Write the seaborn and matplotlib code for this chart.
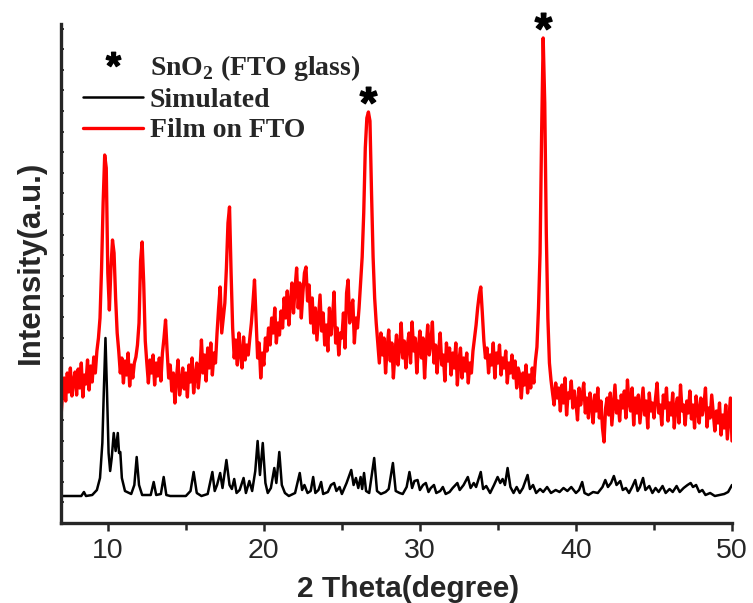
import numpy as np
import pandas as pd
import matplotlib
matplotlib.use("Agg")
import matplotlib.pyplot as plt
import matplotlib.transforms as mtransforms
from matplotlib.ticker import MultipleLocator
from matplotlib.lines import Line2D
from matplotlib.textpath import TextPath
from matplotlib.path import Path
from matplotlib.font_manager import FontProperties
import seaborn as sns

# ---------------- data (intensity in arbitrary units) ----------------
# Film on FTO: sampled every 0.1 degree from 7.0 to 50.0
film_start, film_stop = 7.0, 50.0
film_y = [
    106, 130, 145, 122, 150, 131, 155, 127, 142, 151,   # 7.x
    128, 154, 135, 160, 126, 148, 139, 163, 133, 157,   # 8.x
    141, 166, 150, 172, 185, 205, 255, 320, 368, 355,   # 9.x
    250, 213, 255, 283, 270, 225, 190, 172, 150, 165,   # 10.x
    140, 162, 148, 170, 137, 158, 145, 160, 166, 178,   # 11.x
    200, 262, 281, 240, 182, 160, 140, 163, 150, 168,   # 12.x
    138, 160, 147, 165, 142, 170, 185, 203, 172, 145,   # 13.x
    158, 132, 150, 120, 145, 163, 128, 140, 155, 134,   # 14.x
    150, 126, 158, 141, 165, 130, 147, 160, 135, 152,   # 15.x
    183, 150, 168, 142, 175, 155, 180, 148, 170, 160,   # 16.x
    190, 215, 236, 190, 205, 220, 255, 300, 316, 250,   # 17.x
    195, 165, 183, 158, 190, 170, 155, 186, 163, 178,   # 18.x
    168, 185, 200, 220, 243, 205, 165, 180, 145, 170,   # 19.x
    158, 185, 172, 195, 178, 205, 190, 215, 180, 200,   # 20.x
    188, 212, 195, 225, 205, 232, 198, 220, 240, 210,   # 21.x
    235, 255, 215, 240, 205, 230, 250, 256, 222, 238,   # 22.x
    200, 225, 190, 215, 183, 205, 228, 192, 210, 178,   # 23.x
    198, 172, 215, 188, 205, 231, 180, 195, 168, 190,   # 24.x
    185, 210, 175, 230, 243, 200, 215, 223, 180, 205,   # 25.x
    195, 215, 240, 266, 310, 375, 405, 411, 402, 330,   # 26.x
    266, 225, 200, 180, 160, 190, 168, 185, 150, 175,   # 27.x
    193, 162, 180, 145, 170, 188, 158, 176, 200, 165,   # 28.x
    182, 155, 178, 190, 160, 201, 172, 185, 150, 175,   # 29.x
    192, 165, 185, 145, 175, 198, 168, 180, 201, 160,   # 30.x
    178, 150, 172, 190, 158, 168, 142, 180, 162, 175,   # 31.x
    148, 170, 155, 180, 138, 162, 175, 145, 165, 152,   # 32.x
    170, 140, 160, 150, 172, 185, 198, 215, 228, 236,   # 33.x
    210, 182, 165, 175, 150, 168, 158, 180, 145, 170,   # 34.x
    160, 178, 148, 165, 155, 172, 140, 160, 150, 168,   # 35.x
    145, 162, 135, 155, 148, 125, 150, 138, 158, 130,   # 36.x
    148, 135, 155, 140, 162, 176, 215, 270, 390, 485,   # 37.x
    420, 290, 205, 160, 143, 130, 118, 140, 125, 135,   # 38.x
    112, 138, 120, 145, 108, 130, 125, 142, 115, 132,   # 39.x
    120, 103, 135, 118, 128, 140, 110, 125, 105, 130,   # 40.x
    118, 100, 128, 112, 135, 105, 122, 95, 81, 115,     # 41.x
    125, 108, 130, 98, 118, 138, 110, 122, 102, 128,    # 42.x
    115, 132, 105, 143, 120, 112, 135, 98, 125, 110,    # 43.x
    128, 100, 118, 135, 108, 122, 95, 130, 112, 120,    # 44.x
    105, 125, 140, 110, 118, 98, 128, 115, 135, 102,    # 45.x
    120, 108, 130, 95, 116, 125, 100, 138, 112, 118,    # 46.x
    98, 122, 110, 132, 104, 118, 95, 127, 112, 100,     # 47.x
    125, 108, 118, 135, 96, 115, 105, 128, 110, 92,     # 48.x
    112, 100, 120, 88, 108, 95, 118, 84, 105, 125,      # 49.x
    82,                                                 # 50.0
]

# Simulated pattern: (2theta, intensity)
sim_x = [7.0, 8.3, 8.47, 8.6, 9.0, 9.3, 9.5, 9.65, 9.75, 9.85, 9.95, 10.05, 10.15,
         10.25, 10.38, 10.5, 10.64, 10.72, 10.8, 10.9, 11.1, 11.5, 11.7, 11.85, 12.0,
         12.2, 12.75, 12.94, 13.1, 13.4, 13.58, 13.75, 14.0, 15.0, 15.3, 15.5, 15.7,
         16.0, 16.4, 16.7, 16.85, 17.0, 17.2, 17.35, 17.6, 17.8, 17.95, 18.1, 18.25,
         18.45, 18.7, 18.85, 19.07, 19.25, 19.45, 19.6, 19.75, 19.93, 20.1, 20.25,
         20.45, 20.67, 20.8, 20.99, 21.15, 21.35, 21.6, 22.0, 22.3, 22.45, 22.6, 22.8,
         23.0, 23.16, 23.3, 23.5, 23.67, 23.8, 24.1, 24.3, 24.5, 24.65, 24.85, 25.0,
         25.3, 25.6, 25.75, 25.9, 26.05, 26.2, 26.3, 26.42, 26.55, 26.75, 27.07, 27.25,
         27.5, 27.8, 28.0, 28.27, 28.45, 28.7, 28.9, 29.15, 29.33, 29.5, 29.65, 29.85,
         30.0, 30.2, 30.38, 30.55, 30.7, 30.9, 31.05, 31.3, 31.47, 31.65, 31.9, 32.1,
         32.4, 32.55, 32.8, 33.07, 33.25, 33.45, 33.6, 33.9, 34.05, 34.25, 34.5, 34.75,
         34.98, 35.15, 35.3, 35.45, 35.62, 35.8, 36.0, 36.2, 36.4, 36.6, 36.9, 37.05,
         37.25, 37.45, 37.7, 37.9, 38.15, 38.4, 38.7, 38.95, 39.2, 39.45, 39.7, 40.0,
         40.2, 40.4, 40.55, 40.8, 41.1, 41.4, 41.7, 41.88, 42.05, 42.25, 42.43, 42.6,
         42.84, 43.0, 43.2, 43.4, 43.6, 43.8, 43.95, 44.1, 44.3, 44.45, 44.7, 44.9,
         45.1, 45.3, 45.55, 45.75, 46.0, 46.2, 46.45, 46.65, 46.9, 47.15, 47.35, 47.5,
         47.7, 47.9, 48.1, 48.3, 48.6, 48.9, 49.2, 49.5, 49.75, 50.0]
sim_y = [27, 27, 31, 27, 28, 33, 45, 80, 135, 185, 130, 70, 52,
         65, 90, 72, 90, 70, 71, 45, 32, 29, 38, 66, 38,
         28, 28, 41, 28, 29, 46, 28, 27, 27, 32, 51, 30,
         27, 29, 51, 32, 38, 50, 35, 63, 38, 34, 44, 30,
         33, 45, 30, 42, 32, 52, 82, 48, 80, 40, 30,
         35, 55, 40, 71, 38, 30, 27, 30, 50, 33, 38, 30,
         32, 46, 30, 33, 41, 29, 31, 38, 40, 32, 36, 29,
         40, 53, 38, 45, 35, 46, 34, 50, 32, 30, 65, 32,
         29, 31, 34, 60, 32, 30, 29, 36, 51, 35, 42, 43,
         33, 38, 40, 31, 35, 38, 30, 32, 36, 29, 31, 35,
         40, 33, 38, 46, 35, 40, 36, 51, 34, 37, 30, 38,
         46, 40, 44, 38, 55, 36, 30, 36, 30, 35, 48, 34,
         38, 30, 34, 31, 36, 30, 33, 31, 35, 32, 36, 30,
         33, 41, 30, 28, 31, 30, 36, 43, 36, 40, 47, 38,
         42, 33, 35, 30, 36, 43, 32, 36, 45, 33, 37, 30,
         35, 31, 37, 30, 34, 31, 37, 31, 35, 38, 40, 36,
         38, 31, 33, 28, 30, 27, 28, 29, 31, 38]

sno2_peaks = [26.7, 37.9]          # SnO2 (FTO glass) reflections marked with *
x_ticks = [10, 20, 30, 40, 50]
x_label = "2 Theta(degree)"
y_label = "Intensity(a.u.)"
labels = ["SnO$_\\mathbf{2}$ (FTO glass)", "Simulated", "Film on FTO"]

film_x = np.round(np.linspace(film_start, film_stop, len(film_y)), 2)
film = pd.DataFrame({"x": film_x, "y": film_y})
sim = pd.DataFrame({"x": sim_x, "y": sim_y})

# ---------------- style ----------------
sns.set_style("ticks")
plt.rcParams["font.family"] = ["Liberation Sans", "DejaVu Sans"]
plt.rcParams["mathtext.fontset"] = "custom"
plt.rcParams["mathtext.bf"] = "Liberation Serif:bold"
plt.rcParams["mathtext.rm"] = "Liberation Serif:bold"

# asterisk glyph (Arial-like) as a centred marker path
_tp = TextPath((0, 0), "*", prop=FontProperties(family="Liberation Sans", weight="bold"))
_v = _tp.vertices
_c = (_v.min(axis=0) + _v.max(axis=0)) / 2
star_path = Path(_v - _c, _tp.codes)

fig = plt.figure(figsize=(7.53, 6.03), dpi=100)
ax = fig.add_axes([61 / 753, 1 - 523 / 603, (732 - 61) / 753, (523 - 24) / 603])

sns.lineplot(data=sim, x="x", y="y", color="black", lw=1.8, ax=ax,
             sort=False, estimator=None, legend=False)
sns.lineplot(data=film, x="x", y="y", color="#ff0000", lw=2.4, ax=ax,
             sort=False, estimator=None, legend=False)

ax.set_xlim(7, 50)
ax.set_ylim(0, 499)
ax.set_xticks(x_ticks)
ax.xaxis.set_minor_locator(MultipleLocator(5))
ax.yaxis.set_major_locator(MultipleLocator(20.6))
ax.tick_params(axis="x", which="major", direction="out", length=6, width=1.8,
               labelsize=20.5, pad=5)
ax.tick_params(axis="x", which="minor", direction="out", length=5, width=1.8)
ax.tick_params(axis="y", which="major", direction="in", length=2.5, width=1.3,
               labelleft=False)
for s in ["top", "right"]:
    ax.spines[s].set_visible(False)
for s in ["left", "bottom"]:
    ax.spines[s].set_linewidth(2.4)

ax.set_xlabel(x_label, fontsize=21.5, fontweight="bold")
ax.set_ylabel(y_label, fontsize=22.5, fontweight="bold")
ax.xaxis.set_label_coords(0.517, -0.105)
ax.yaxis.set_label_coords(-0.022, 0.523)

# asterisks above SnO2 reflections (placed from the data maxima)
lift = mtransforms.ScaledTranslation(0, 7 / 72, fig.dpi_scale_trans)
for p in sno2_peaks:
    mask = (film["x"] > p - 0.4) & (film["x"] < p + 0.4)
    row = film.loc[film.loc[mask, "y"].idxmax()]
    ax.plot([row["x"]], [row["y"]], ls="none", marker=star_path, color="black",
            markersize=22, clip_on=False, transform=ax.transData + lift)

handles = [
    Line2D([], [], ls="none", marker=star_path, color="black", markersize=19),
    Line2D([], [], color="black", lw=1.8),
    Line2D([], [], color="#ff0000", lw=2.4),
]
ax.legend(handles, labels, loc="upper left", bbox_to_anchor=(0.033, 0.942),
          frameon=False, borderpad=0, borderaxespad=0, handlelength=2.15,
          handletextpad=0.25, labelspacing=0.17,
          prop={"family": "Liberation Serif", "weight": "bold", "size": 20})

fig.savefig("out.png", dpi=100)
